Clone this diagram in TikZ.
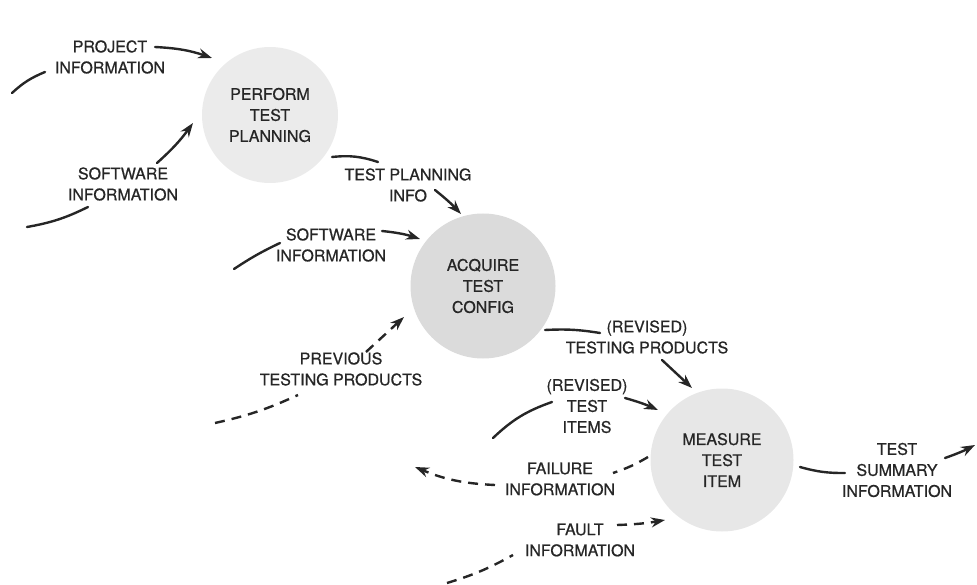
\documentclass[tikz,border=0pt]{standalone}
\usepackage{fontspec}
\setmainfont{TeX Gyre Heros}
\newfontfamily\flowfont{TeX Gyre Heros}[FakeBold=0.7]
\usetikzlibrary{arrows.meta}
\definecolor{ink}{HTML}{262626}
\definecolor{bubA}{HTML}{EBEBEB}
\definecolor{bubB}{HTML}{DBDBDB}
\definecolor{bubC}{HTML}{E7E7E7}
\begin{document}
\begin{tikzpicture}[x=1pt,y=-1pt,
  flow/.style={draw=ink, line width=2.4pt, line cap=round},
  arrowflow/.style={flow, -{Stealth[length=14pt,width=10pt]}},
  dashflow/.style={flow, line cap=butt, dash pattern=on 10pt off 7pt},
  dasharrow/.style={dashflow, -{Stealth[length=14pt,width=10pt]}},
  bubble/.style={circle, inner sep=0pt, minimum size=#1, align=center,
    text=ink, font=\flowfont\fontsize{16}{21}\selectfont},
  lbl/.style={align=center, inner sep=0pt, text=ink,
    font=\flowfont\fontsize{16}{21}\selectfont},
]
\useasboundingbox (0,0) rectangle (977,585);

% processes
\node[bubble=136pt, fill=bubA] (c1) at (270,115) {PERFORM\\TEST\\PLANNING};
\node[bubble=145pt, fill=bubB] (c2) at (483,286) {ACQUIRE\\TEST\\CONFIG};
\node[bubble=143pt, fill=bubC] (c3) at (722,460) {MEASURE\\TEST\\ITEM};

% flow labels
\node[lbl] (proj)  at (110,57)  {PROJECT\\INFORMATION};
\node[lbl] (swa)   at (123,184) {SOFTWARE\\INFORMATION};
\node[lbl] (tpi)   at (408,185) {TEST PLANNING\\INFO};
\node[lbl] (swb)   at (331,245) {SOFTWARE\\INFORMATION};
\node[lbl] (prev)  at (341,369) {PREVIOUS\\TESTING PRODUCTS};
\node[lbl] (rtp)   at (647,337) {(REVISED)\\TESTING PRODUCTS};
\node[lbl] (rti)   at (587,406) {(REVISED)\\TEST\\ITEMS};
\node[lbl] (fail)  at (560,479) {FAILURE\\INFORMATION};
\node[lbl] (fault) at (580,540) {FAULT\\INFORMATION};
\node[lbl] (summ)  at (897,470) {TEST\\SUMMARY\\INFORMATION};

% connector end points
\coordinate (p0) at (12,93);   \coordinate (p1) at (45,72);
\coordinate (p2) at (155,47);  \coordinate (p3) at (212,58);
\coordinate (s0) at (27,227);  \coordinate (s1) at (88,207);
\coordinate (s2) at (157,163); \coordinate (s3) at (193,123);
\coordinate (t0) at (332,157); \coordinate (t1) at (378,162);
\coordinate (t2) at (435,190); \coordinate (t3) at (461,214);
\coordinate (w0) at (234,269); \coordinate (w1) at (280,243);
\coordinate (w2) at (382,231); \coordinate (w3) at (420,239);
\coordinate (v0) at (215,423); \coordinate (v1) at (298,395);
\coordinate (v2) at (366,352); \coordinate (v3) at (404,317);
\coordinate (r0) at (545,330); \coordinate (r1) at (600,333);
\coordinate (r2) at (662,360); \coordinate (r3) at (692,388);
\coordinate (i0) at (493,438); \coordinate (i1) at (552,402);
\coordinate (i2) at (625,398); \coordinate (i3) at (658,410);
\coordinate (f0) at (648,457); \coordinate (f1) at (613,473);
\coordinate (f2) at (495,485); \coordinate (f3) at (415,467);
\coordinate (q0) at (447,583); \coordinate (q1) at (513,555);
\coordinate (q2) at (617,525); \coordinate (q3) at (665,520);
\coordinate (m0) at (800,467); \coordinate (m1) at (845,473);
\coordinate (m2) at (945,458); \coordinate (m3) at (975,445);

% data flows
\draw[flow] (p0) to[bend left=10] (p1);
\draw[arrowflow] (p2) to[bend left=8] (p3);
\draw[flow] (s0) to[bend right=8] (s1);
\draw[arrowflow] (s2) to[bend right=6] (s3);
\draw[flow] (t0) to[bend left=12] (t1);
\draw[arrowflow] (t2) to[bend left=4] (t3);
\draw[flow] (w0) to[bend left=4] (w1);
\draw[arrowflow] (w2) to[bend left=6] (w3);
\draw[dashflow] (v0) to[bend right=6] (v1);
\draw[dasharrow] (v2) to (v3);
\draw[flow] (r0) to[bend left=6] (r1);
\draw[arrowflow] (r2) to (r3);
\draw[flow] (i0) to[bend left=12] (i1);
\draw[arrowflow] (i2) to[bend left=4] (i3);
\draw[dashflow] (f0) to[bend left=6] (f1);
\draw[dasharrow] (f2) to[bend left=10] (f3);
\draw[dashflow] (q0) to[bend right=6] (q1);
\draw[dasharrow] (q2) to[bend right=4] (q3);
\draw[flow] (m0) to[bend right=8] (m1);
\draw[arrowflow] (m2) to[bend right=4] (m3);
\end{tikzpicture}
\end{document}
